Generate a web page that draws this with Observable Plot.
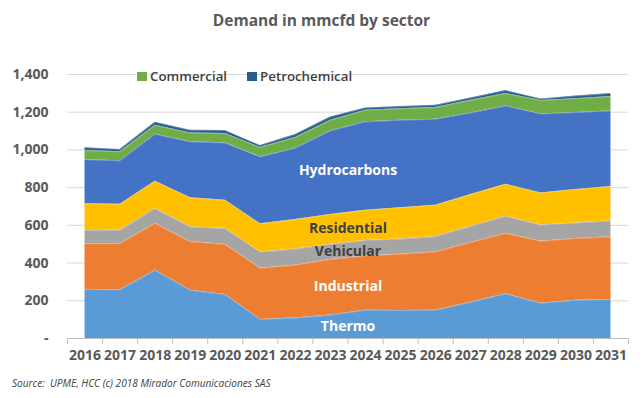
<!DOCTYPE html>
<html>
<head>
<meta charset="utf-8">
<script src="https://cdn.jsdelivr.net/npm/d3@7"></script>
<script src="https://cdn.jsdelivr.net/npm/@observablehq/plot@0.6"></script>
<style>
  html, body { margin: 0; padding: 0; background: #fff; }
  #wrap { position: relative; width: 643px; height: 398px; font-family: "Open Sans", sans-serif; }
  #title { height: 40px; line-height: 40px; text-align: center; font-size: 15.5px; font-weight: bold; color: #595959; }
  #caption { position: absolute; left: 12px; top: 376px; font-size: 10.1px; font-style: italic; color: #404040; white-space: pre; }
  #legend { position: absolute; left: 137px; top: 67px; font-size: 13.3px; font-weight: 600; color: #404040; display: flex; align-items: center; }
  #legend .sw { display: inline-block; width: 10px; height: 9px; margin-right: 3px; }
  #legend .item { display: flex; align-items: center; margin-right: 20px; }
</style>
</head>
<body>
<div id="wrap">
  <div id="title">Demand in mmcfd by sector</div>
  <div id="chart"></div>
  <div id="legend"></div>
  <div id="caption">Source:  UPME, HCC (c) 2018 Mirador Comunicaciones SAS</div>
</div>
<script>
const years = [2016, 2017, 2018, 2019, 2020, 2021, 2022, 2023, 2024, 2025, 2026, 2027, 2028, 2029, 2030, 2031];
const sectors = ["Thermo", "Industrial", "Vehicular", "Residential", "Hydrocarbons", "Commercial", "Petrochemical"];
const thermo       = [260, 258, 362, 256, 233, 101, 109, 124, 150, 148, 150, 192, 237, 187, 203, 207];
const industrial   = [243, 245, 248, 258, 265, 272, 280, 295, 288, 299, 309, 317, 320, 329, 327, 332];
const vehicular    = [70, 71, 79, 78, 85, 86, 85, 81, 82, 80, 82, 86, 91, 86, 83, 85];
const residential  = [142, 138, 145, 154, 150, 149, 157, 157, 160, 167, 166, 168, 170, 170, 177, 182];
const hydrocarbons = [233, 230, 249, 297, 304, 355, 378, 444, 469, 463, 456, 433, 415, 419, 408, 401];
const commercial   = [49, 48, 48, 47, 50, 50, 57, 56, 62, 61, 62, 67, 66, 71, 74, 76];
const petrochemical= [15, 12, 16, 14, 16, 10, 16, 18, 12, 12, 12, 13, 16, 8, 14, 16];
const yTicks = [0, 200, 400, 600, 800, 1000, 1200, 1400];
const colors = ["#5B9BD5", "#ED7D31", "#A5A5A5", "#FFC000", "#4472C4", "#70AD47", "#255E91"];
const legendSectors = ["Commercial", "Petrochemical"];
// in-area labels: name, y value, text colour
const labelNames  = ["Hydrocarbons", "Residential", "Vehicular", "Industrial", "Thermo"];
const labelValues = [892, 585, 463, 277, 65];
const labelColors = ["#ffffff", "#404040", "#404040", "#ffffff", "#ffffff"];
const labelYear = 2023.5;

const series = [thermo, industrial, vehicular, residential, hydrocarbons, commercial, petrochemical];
const long = [];
sectors.forEach((s, i) => years.forEach((y, j) => long.push({sector: s, year: y, value: series[i][j]})));
const boundaries = years.map(y => y - 0.5).concat([years[years.length - 1] + 0.5]);
const labels = labelNames.map((n, i) => ({name: n, year: labelYear, value: labelValues[i], color: labelColors[i]}));

const chart = Plot.plot({
  width: 643,
  height: 330,
  marginLeft: 67,
  marginRight: 15,
  marginTop: 34,
  marginBottom: 32,
  style: {fontFamily: "'Open Sans', sans-serif", fontSize: "14px", fontWeight: "bold", color: "#595959", background: "#fff"},
  x: {type: "linear", domain: [boundaries[0], boundaries[boundaries.length - 1]], label: null},
  y: {domain: [0, 1400], label: null},
  color: {domain: sectors, range: colors},
  marks: [
    Plot.ruleY(yTicks.filter(d => d > 0), {stroke: "#D9D9D9", strokeWidth: 1}),
    Plot.areaY(long, {x: "year", y: "value", z: "sector", fill: "sector", order: null}),
    Plot.lineY(long, Plot.stackY2({x: "year", y: "value", z: "sector", order: null, stroke: "#ffffff", strokeOpacity: 0.35, strokeWidth: 0.8})),
    Plot.ruleY([0], {stroke: "#BFBFBF"}),
    Plot.axisX({ticks: boundaries, tickSize: 6, tickFormat: () => "", stroke: "#BFBFBF"}),
    Plot.axisX({ticks: years, tickSize: 0, tickPadding: 12, tickFormat: d => String(d), fontSize: 14, fontWeight: "bold"}),
    Plot.axisY({ticks: yTicks, tickSize: 0, tickPadding: 19, tickFormat: d => d === 0 ? "-" : d3.format(",")(d), fontSize: 14, fontWeight: "bold"}),
    Plot.text(labels, {x: "year", y: "value", text: "name", fill: "color", fontSize: 14, fontWeight: "bold"})
  ]
});
document.getElementById("chart").appendChild(chart);

const legend = document.getElementById("legend");
legendSectors.forEach(s => {
  const item = document.createElement("span");
  item.className = "item";
  const sw = document.createElement("span");
  sw.className = "sw";
  sw.style.background = colors[sectors.indexOf(s)];
  item.appendChild(sw);
  item.appendChild(document.createTextNode(s));
  legend.appendChild(item);
});
</script>
</body>
</html>
